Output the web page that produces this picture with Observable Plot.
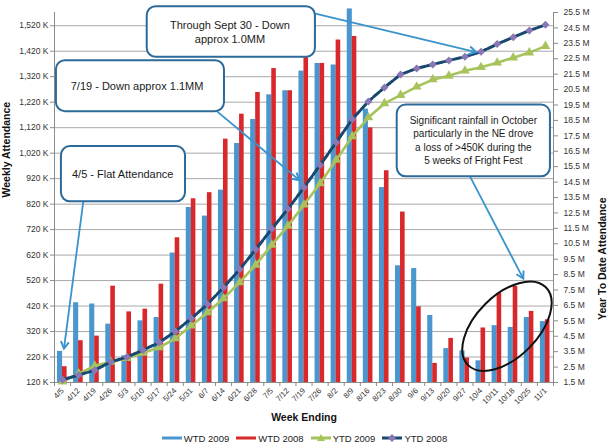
<!DOCTYPE html>
<html><head><meta charset="utf-8">
<script src="https://cdn.jsdelivr.net/npm/d3@7"></script>
<script src="https://cdn.jsdelivr.net/npm/@observablehq/plot@0.6"></script>
<style>
body{margin:0;background:#fff;font-family:"Liberation Sans",Arial,sans-serif;}
#chart svg{display:block;}
#legend{display:flex;justify-content:center;align-items:center;gap:7px;font-size:9.5px;color:#222;height:16px;padding-top:4px;}
#legend .it{display:flex;align-items:center;gap:2px;}
</style></head><body>
<div id="chart"></div>
<div id="legend"></div>
<script>
// ---- data ----
const weeks = ["4/5","4/12","4/19","4/26","5/3","5/10","5/17","5/24","5/31","6/7","6/14","6/21","6/28","7/5","7/12","7/19","7/26","8/2","8/9","8/16","8/23","8/30","9/6","9/13","9/20","9/27","10/4","10/11","10/18","10/25","11/1"];
const wtd2009 = [242,433,428,349,225,362,375,628,807,773,875,1058,1152,1249,1265,1342,1372,1366,1586,1193,885,578,567,383,253,244,205,343,336,375,359];
const wtd2008 = [182,284,302,498,397,408,506,688,841,865,1075,1173,1258,1352,1265,1395,1372,1464,1478,1119,951,789,417,195,293,216,334,469,497,399,366];
const ytd2009 = [1.55,2.08,2.58,2.84,3.08,3.41,3.77,4.35,5.18,6.04,6.95,7.99,9.13,10.43,11.66,13.03,14.41,15.93,17.46,18.69,19.60,20.14,20.68,21.15,21.39,21.72,21.95,22.24,22.57,22.90,23.32];
const ytd2008 = [1.68,1.98,2.30,2.84,3.15,3.60,4.09,4.81,5.65,6.58,7.66,8.83,10.13,11.47,12.75,14.15,15.60,17.07,18.58,19.73,20.64,21.48,21.87,22.13,22.39,22.63,22.95,23.45,23.90,24.33,24.70];
const leftTicks = [120,220,320,420,520,620,720,820,920,1020,1120,1220,1320,1420,1520];
const rightTicks = [1.5,2.5,3.5,4.5,5.5,6.5,7.5,8.5,9.5,10.5,11.5,12.5,13.5,14.5,15.5,16.5,17.5,18.5,19.5,20.5,21.5,22.5,23.5,24.5,25.5];
const seriesNames = ["WTD 2009","WTD 2008","YTD 2009","YTD 2008"];
const leftDomain = [120, 1572];
const rightDomain = [1.5, 25.5];

// annotations (x = fractional week index, y = weekly K units)
const callouts = [
  {lines:["Through Sept 30 - Down","approx 1.0MM"], x1:5.26, x2:15.71, y1:1595, y2:1396, tx:10.43, ty:[1520,1468], fs:11,
   arrow:{from:[15.61,1568], to:[25.72,1415]}},
  {lines:["7/19 - Down approx 1.1MM"], x1:-0.38, x2:10.06, y1:1383, y2:1183, tx:4.66, ty:[1282], fs:11,
   arrow:{from:[9.61,1183], to:[14.74,912]}},
  {lines:["4/5 - Flat Attendance"], x1:-0.07, x2:7.64, y1:1046, y2:829, tx:3.77, ty:[935], fs:11,
   arrow:{from:[1.32,829], to:[0.12,251]}},
  {lines:["Significant rainfall in October","particularly in the NE drove","a loss of >450K during the","5 weeks of Fright Fest"], x1:20.79, x2:30.31, y1:1209, y2:927, tx:25.55, ty:[1147,1095,1042,990], fs:10,
   arrow:{from:[25.34,927], to:[28.65,526]}}
];
const ellipse = {x:27.64, y:339, rx:55, ry:31, rotate:-45};

// ---- styles ----
const blue = "#4a97cf", red = "#d9282b", green = "#a6c35c", navy = "#17486f", purple = "#8a77b4";
const axisGray = "#8c8c8c", gridGray = "#a8a8a8";

const toLeft = m => leftDomain[0] + (m - rightDomain[0]) * (leftDomain[1] - leftDomain[0]) / (rightDomain[1] - rightDomain[0]);
const toRight = v => rightDomain[0] + (v - leftDomain[0]) * (rightDomain[1] - rightDomain[0]) / (leftDomain[1] - leftDomain[0]);

const rows = weeks.map((w, i) => ({week: w, wtd2009: wtd2009[i], wtd2008: wtd2008[i], ytd2009: ytd2009[i], ytd2008: ytd2008[i]}));

const W = 609, H = 426, mL = 54, mR = 56, mT = 12, mB = 44;
const bw = (W - mL - mR) / weeks.length;
const pxPerK = (H - mT - mB) / (leftDomain[1] - leftDomain[0]);
const tickK = 4 / pxPerK;

const plot = Plot.plot({
  width: W, height: H,
  marginLeft: mL, marginRight: mR, marginTop: mT, marginBottom: mB,
  x: {domain: weeks, padding: 0, round: false, label: null, axis: null},
  y: {domain: leftDomain, label: null, axis: null},
  style: {fontFamily: "Liberation Sans, Arial, sans-serif", fontSize: "8.5px", color: "#333", background: "#fff"},
  marks: [
    Plot.ruleY(leftTicks, {stroke: gridGray, strokeWidth: 1}),
    Plot.barY(rows, {x: "week", y1: leftDomain[0], y2: "wtd2009", fill: blue, insetLeft: 3, insetRight: 8}),
    Plot.barY(rows, {x: "week", y1: leftDomain[0], y2: "wtd2008", fill: red, insetLeft: 8, insetRight: 3.5}),
    Plot.ruleY([leftDomain[0]], {stroke: axisGray}),
    Plot.frame({anchor: "left", stroke: axisGray}),
    Plot.frame({anchor: "right", stroke: axisGray}),
    Plot.axisY(leftTicks, {anchor: "left", tickSize: 4, tickPadding: 2, stroke: axisGray, fill: "#333", tickFormat: d => d3.format(",")(d) + " K", label: null}),
    Plot.axisY(rightTicks.map(toLeft), {anchor: "right", tickSize: 4, tickPadding: 6, stroke: axisGray, fill: "#333", tickFormat: d => toRight(d).toFixed(1) + " M", label: null}),
    Plot.ruleX(weeks, {x: d => d, y1: leftDomain[0], y2: leftDomain[0] - tickK, dx: -bw / 2, stroke: axisGray}),
    Plot.ruleX([weeks[weeks.length - 1]], {x: d => d, y1: leftDomain[0], y2: leftDomain[0] - tickK, dx: bw / 2, stroke: axisGray}),
    Plot.axisX({tickRotate: -45, tickSize: 0, tickPadding: 7, fontSize: 7.8, fill: "#333", label: null}),
    Plot.line(rows, {x: "week", y: d => toLeft(d.ytd2009), stroke: green, strokeWidth: 2.6}),
    Plot.dot(rows, {x: "week", y: d => toLeft(d.ytd2009), symbol: "triangle", fill: green, r: 3.6}),
    Plot.line(rows, {x: "week", y: d => toLeft(d.ytd2008), stroke: navy, strokeWidth: 3, strokeDasharray: "7,2"}),
    Plot.dot(rows, {x: "week", y: d => toLeft(d.ytd2008), symbol: "diamond2", fill: purple, stroke: "none", r: 3.6}),
    Plot.text(["Weekly Attendance"], {frameAnchor: "left", dx: -48, rotate: -90, fontWeight: "bold", fontSize: 10.5, fill: "#111"}),
    Plot.text(["Year To Date Attendance"], {frameAnchor: "right", dx: 49, rotate: -90, fontWeight: "bold", fontSize: 10.5, fill: "#111"}),
    Plot.text(["Week Ending"], {frameAnchor: "bottom", dy: 38, fontWeight: "bold", fontSize: 10.5, fill: "#111"})
  ]
});
document.getElementById("chart").appendChild(plot);

// ---- annotations through the plot's scales ----
const sx = plot.scale("x"), sy = plot.scale("y");
const X = i => sx.apply(weeks[0]) + sx.bandwidth * (i + 0.5);
const Y = v => sy.apply(v);
const svg = d3.select(plot);
const g = svg.append("g");
const calloutStroke = "#2c6a9a", arrowColor = "#3a93cc";

callouts.forEach(c => {
  const ax1 = X(c.arrow.from[0]), ay1 = Y(c.arrow.from[1]);
  const ax2 = X(c.arrow.to[0]), ay2 = Y(c.arrow.to[1]);
  g.append("line").attr("x1", ax1).attr("y1", ay1).attr("x2", ax2).attr("y2", ay2)
    .attr("stroke", arrowColor).attr("stroke-width", 1.8);
  const ang = Math.atan2(ay2 - ay1, ax2 - ax1), L = 8, a = Math.PI / 6;
  g.append("path")
    .attr("d", `M${ax2 - L * Math.cos(ang - a)},${ay2 - L * Math.sin(ang - a)}L${ax2},${ay2}L${ax2 - L * Math.cos(ang + a)},${ay2 - L * Math.sin(ang + a)}`)
    .attr("fill", "none").attr("stroke", arrowColor).attr("stroke-width", 2);
});
callouts.forEach(c => {
  const x1 = X(c.x1), x2 = X(c.x2), y1 = Y(c.y1), y2 = Y(c.y2);
  g.append("rect").attr("x", x1).attr("y", y1).attr("width", x2 - x1).attr("height", y2 - y1)
    .attr("rx", 9).attr("fill", "#fff").attr("stroke", calloutStroke).attr("stroke-width", 2);
  c.lines.forEach((t, k) => {
    g.append("text").attr("x", X(c.tx)).attr("y", Y(c.ty[k])).attr("text-anchor", "middle")
      .attr("dominant-baseline", "central").attr("font-size", c.fs).attr("fill", "#1a1a1a")
      .attr("font-family", "Liberation Sans, Arial, sans-serif").text(t);
  });
});
g.append("ellipse").attr("cx", 0).attr("cy", 0).attr("rx", ellipse.rx).attr("ry", ellipse.ry)
  .attr("transform", `translate(${X(ellipse.x)},${Y(ellipse.y)}) rotate(${ellipse.rotate})`)
  .attr("fill", "none").attr("stroke", "#111").attr("stroke-width", 2);

// ---- legend ----
const legendSpecs = [
  {name: seriesNames[0], color: blue, sym: null},
  {name: seriesNames[1], color: red, sym: null},
  {name: seriesNames[2], color: green, sym: "tri", mcolor: green},
  {name: seriesNames[3], color: navy, sym: "dia", mcolor: purple}
];
const leg = d3.select("#legend");
legendSpecs.forEach(s => {
  const it = leg.append("div").attr("class", "it");
  const sv = it.append("svg").attr("width", 20).attr("height", 10);
  sv.append("line").attr("x1", 0).attr("x2", 20).attr("y1", 5).attr("y2", 5).attr("stroke", s.color).attr("stroke-width", 3);
  if (s.sym === "tri") sv.append("path").attr("d", "M10,1L14,8L6,8Z").attr("fill", s.mcolor);
  if (s.sym === "dia") sv.append("path").attr("d", "M10,1L14,5L10,9L6,5Z").attr("fill", s.mcolor);
  it.append("span").text(s.name);
});
</script>
</body></html>
